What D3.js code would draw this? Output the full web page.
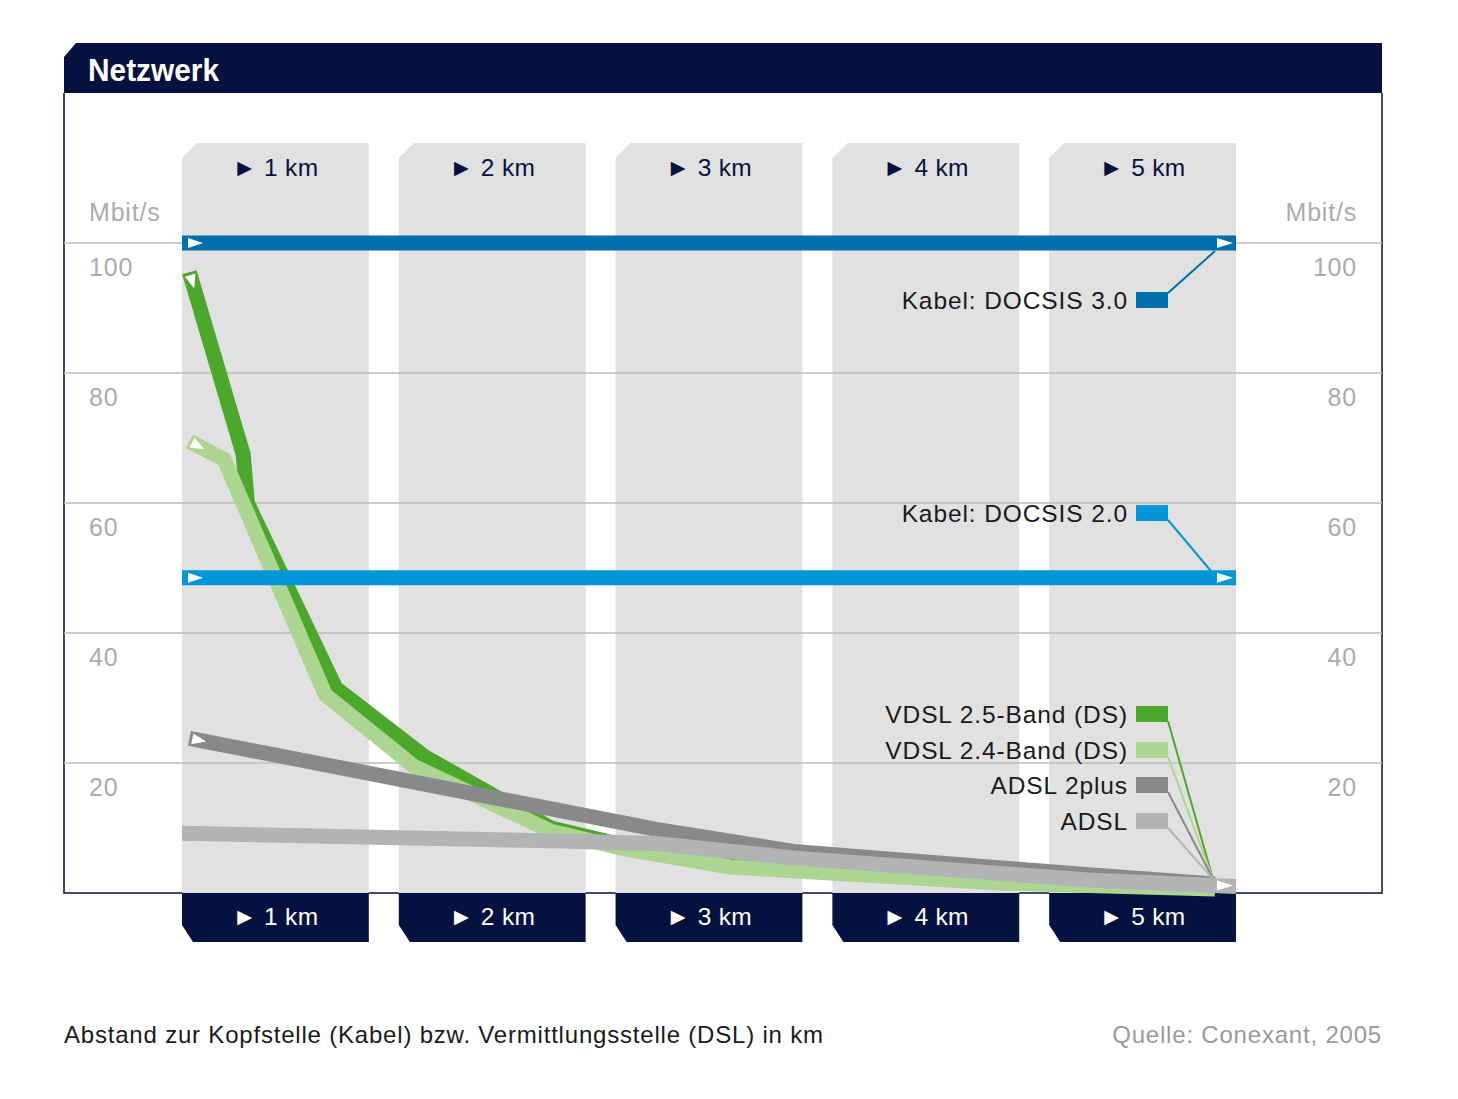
<!DOCTYPE html>
<html>
<head>
<meta charset="utf-8">
<script src="https://cdn.jsdelivr.net/npm/d3@7"></script>
<style>
  body { margin: 0; background: #fff; }
  text { font-family: "Liberation Sans", Arial, Helvetica, sans-serif; }
</style>
</head>
<body>
<div id="chart"></div>
<script>
// ---- data ----
const distances = ["1 km", "2 km", "3 km", "4 km", "5 km"];
const yTicks = [20, 40, 60, 80, 100];

const kabelNames = ["Kabel: DOCSIS 3.0", "Kabel: DOCSIS 2.0"];
const kabelValues = [100, 48.5];

const dslNames = ["VDSL 2.5-Band (DS)", "VDSL 2.4-Band (DS)", "ADSL 2plus", "ADSL"];
// [km, Mbit/s]
const vdsl25 = [[0.035, 95.5], [0.29, 67.5], [0.31, 60], [0.73, 31.5], [1.15, 21], [1.75, 10], [2.1, 7.3], [2.6, 4.4], [3.9, 1.8], [4.9, 1.0]];
const vdsl24 = [[0.035, 69.5], [0.2, 66.7], [0.68, 30.5], [1.1, 19.5], [1.75, 9.5], [2.1, 6.8], [2.6, 4.0], [3.9, 1.5], [4.9, 0.6]];
const adsl2plus = [[0.035, 23.8], [2.25, 9.8], [2.9, 6.4], [4.3, 2.8], [4.9, 1.4]];
const adsl = [[0, 9.2], [1.8, 8.0], [2.25, 7.6], [2.9, 5.4], [4.3, 2.0], [5.0, 1.0]];
const dslSeries = [vdsl25, vdsl24, adsl2plus, adsl];

const kabelColors = ["#0070ad", "#0096d8"];
const dslColors = ["#4ca82a", "#add592", "#88898b", "#b2b3b5"];
const navy = "#05113f";

// ---- layout ----
const W = 1458, H = 1099;
const frame = { left: 64, right: 1382, top: 43, head: 93, bottom: 893 };
const fs = 24.5, ls = 0.9;   // body text size / tracking

const svg = d3.select("#chart").append("svg")
    .attr("width", W)
    .attr("height", H);

const x = d3.scaleLinear().domain([0, 5]).range([182, 1236]);
const y = d3.scaleLinear().domain([0, 100]).range([frame.bottom, 243]);
const band = d3.scaleBand().domain(distances).range(x.range()).paddingInner(30 / 217);

// header bar
svg.append("path")
    .attr("d", `M${frame.left},${frame.top + 14} L${frame.left + 12},${frame.top} L${frame.right},${frame.top} L${frame.right},${frame.head} L${frame.left},${frame.head} Z`)
    .attr("fill", navy);
svg.append("text")
    .attr("x", 88).attr("y", 81)
    .attr("fill", "#fff")
    .attr("font-size", 31)
    .attr("font-weight", "bold")
    .attr("textLength", 131)
    .attr("lengthAdjust", "spacingAndGlyphs")
    .text("Netzwerk");

// frame sides
svg.append("path")
    .attr("d", `M${frame.left},${frame.head} V${frame.bottom} H${frame.right} V${frame.head}`)
    .attr("fill", "none")
    .attr("stroke", navy)
    .attr("stroke-width", 1.5);

// grey distance columns with km tabs
const bw = band.bandwidth();
svg.selectAll(".col")
    .data(distances)
    .enter().append("path")
    .attr("class", "col")
    .attr("d", d => {
        const x0 = band(d);
        return `M${x0},158 L${x0 + 15},143 H${x0 + bw} V${frame.bottom} H${x0} Z`;
    })
    .attr("fill", "#e1e1e1");

svg.selectAll(".tab")
    .data(distances)
    .enter().append("path")
    .attr("class", "tab")
    .attr("d", d => {
        const x0 = band(d);
        return `M${x0},${frame.bottom} H${x0 + bw} V942 H${x0 + 11} L${x0},925 Z`;
    })
    .attr("fill", navy);

svg.selectAll(".toplab")
    .data(distances)
    .enter().append("text")
    .attr("x", d => band(d) + bw / 2)
    .attr("y", 176)
    .attr("text-anchor", "middle")
    .attr("font-size", fs)
    .attr("letter-spacing", 0.3)
    .attr("fill", navy)
    .text(d => "\u25BA " + d);

svg.selectAll(".botlab")
    .data(distances)
    .enter().append("text")
    .attr("x", d => band(d) + bw / 2)
    .attr("y", 925)
    .attr("text-anchor", "middle")
    .attr("font-size", fs)
    .attr("letter-spacing", 0.3)
    .attr("fill", "#fff")
    .text(d => "\u25BA " + d);

// gridlines
svg.selectAll(".grid")
    .data(yTicks)
    .enter().append("line")
    .attr("x1", frame.left).attr("x2", frame.right)
    .attr("y1", d => y(d)).attr("y2", d => y(d))
    .attr("stroke", "#bdbdbd")
    .attr("stroke-width", 1.5);

// axis labels both sides
[["start", 89], ["end", 1357]].forEach(([anchor, xp]) => {
    svg.append("text")
        .attr("x", xp).attr("y", 221)
        .attr("text-anchor", anchor)
        .attr("font-size", 25)
        .attr("letter-spacing", 0.8)
        .attr("fill", "#ababab")
        .text("Mbit/s");
    svg.selectAll(null)
        .data(yTicks)
        .enter().append("text")
        .attr("x", xp)
        .attr("y", d => y(d) + 33)
        .attr("text-anchor", anchor)
        .attr("font-size", 25)
        .attr("letter-spacing", 0.8)
        .attr("fill", "#ababab")
        .text(d => d);
});

// DSL ribbons
const line = d3.line().x(d => x(d[0])).y(d => y(d[1]));

dslSeries.forEach((s, i) => {
    svg.append("path")
        .attr("d", line(s))
        .attr("fill", "none")
        .attr("stroke", dslColors[i])
        .attr("stroke-width", 15)
        .attr("stroke-linejoin", "miter")
        .attr("stroke-miterlimit", 3);
});

// start markers on the DSL lines (not on ADSL)
const tri = "M-5,-5.5 L9,0 L-5,5.5 Z";
[0, 1, 2].forEach(i => {
    const p0 = dslSeries[i][0], p1 = dslSeries[i][1];
    const dx = x(p1[0]) - x(p0[0]), dy = y(p1[1]) - y(p0[1]);
    const ang = Math.atan2(dy, dx);
    const off = 8;
    svg.append("path")
        .attr("d", tri)
        .attr("fill", "#fff")
        .attr("transform", `translate(${x(p0[0]) + Math.cos(ang) * off},${y(p0[1]) + Math.sin(ang) * off}) rotate(${ang * 180 / Math.PI})`);
});
// end marker where the DSL lines meet
const adslEnd = adsl[adsl.length - 1];
svg.append("path")
    .attr("d", "M0,-5 L16,0 L0,5 Z")
    .attr("fill", "#fff")
    .attr("transform", `translate(${x(adslEnd[0]) - 19},${y(adslEnd[1]) - 1})`);

// Kabel lines
kabelValues.forEach((v, i) => {
    svg.append("line")
        .attr("x1", x(0)).attr("x2", x(5))
        .attr("y1", y(v)).attr("y2", y(v))
        .attr("stroke", kabelColors[i])
        .attr("stroke-width", 15);
    svg.append("path")
        .attr("d", "M0,-5 L15,0 L0,5 Z")
        .attr("fill", "#fff")
        .attr("transform", `translate(${x(0) + 6},${y(v)})`);
    svg.append("path")
        .attr("d", "M0,-5 L16,0 L0,5 Z")
        .attr("fill", "#fff")
        .attr("transform", `translate(${x(5) - 19},${y(v)})`);
});

// legend: label, colour box, connector to line end
const boxX = 1136, boxW = 32, boxH = 16;
const kabelLegendY = [300, 513];
const kabelTarget = [[1215, 251], [1216, 577]];
const kabelFrom = [[1168, 293], [1168, 520]];
kabelNames.forEach((n, i) => {
    svg.append("line")
        .attr("x1", kabelFrom[i][0]).attr("y1", kabelFrom[i][1])
        .attr("x2", kabelTarget[i][0]).attr("y2", kabelTarget[i][1])
        .attr("stroke", kabelColors[i])
        .attr("stroke-width", 2);
    svg.append("rect")
        .attr("x", boxX).attr("y", kabelLegendY[i] - boxH / 2)
        .attr("width", boxW).attr("height", boxH)
        .attr("fill", kabelColors[i]);
    svg.append("text")
        .attr("x", 1128).attr("y", kabelLegendY[i] + 8.5)
        .attr("text-anchor", "end")
        .attr("font-size", fs)
        .attr("letter-spacing", ls)
        .attr("fill", "#1a1a1a")
        .text(n);
});

const dslLegendY = [714, 750, 785, 821];
const meet = [1213, 879];
dslNames.forEach((n, i) => {
    svg.append("line")
        .attr("x1", boxX + boxW).attr("y1", dslLegendY[i] + 7)
        .attr("x2", meet[0]).attr("y2", meet[1])
        .attr("stroke", dslColors[i])
        .attr("stroke-width", 2);
    svg.append("rect")
        .attr("x", boxX).attr("y", dslLegendY[i] - boxH / 2)
        .attr("width", boxW).attr("height", boxH)
        .attr("fill", dslColors[i]);
    svg.append("text")
        .attr("x", 1128).attr("y", dslLegendY[i] + 8.5)
        .attr("text-anchor", "end")
        .attr("font-size", fs)
        .attr("letter-spacing", ls)
        .attr("fill", "#1a1a1a")
        .text(n);
});

// footer
svg.append("text")
    .attr("x", 64).attr("y", 1043)
    .attr("font-size", 24)
    .attr("letter-spacing", 0.8)
    .attr("fill", "#1a1a1a")
    .text("Abstand zur Kopfstelle (Kabel) bzw. Vermittlungsstelle (DSL) in km");
svg.append("text")
    .attr("x", frame.right).attr("y", 1043)
    .attr("text-anchor", "end")
    .attr("font-size", 24)
    .attr("letter-spacing", 0.8)
    .attr("fill", "#9a9a9a")
    .text("Quelle: Conexant, 2005");
</script>
</body>
</html>
